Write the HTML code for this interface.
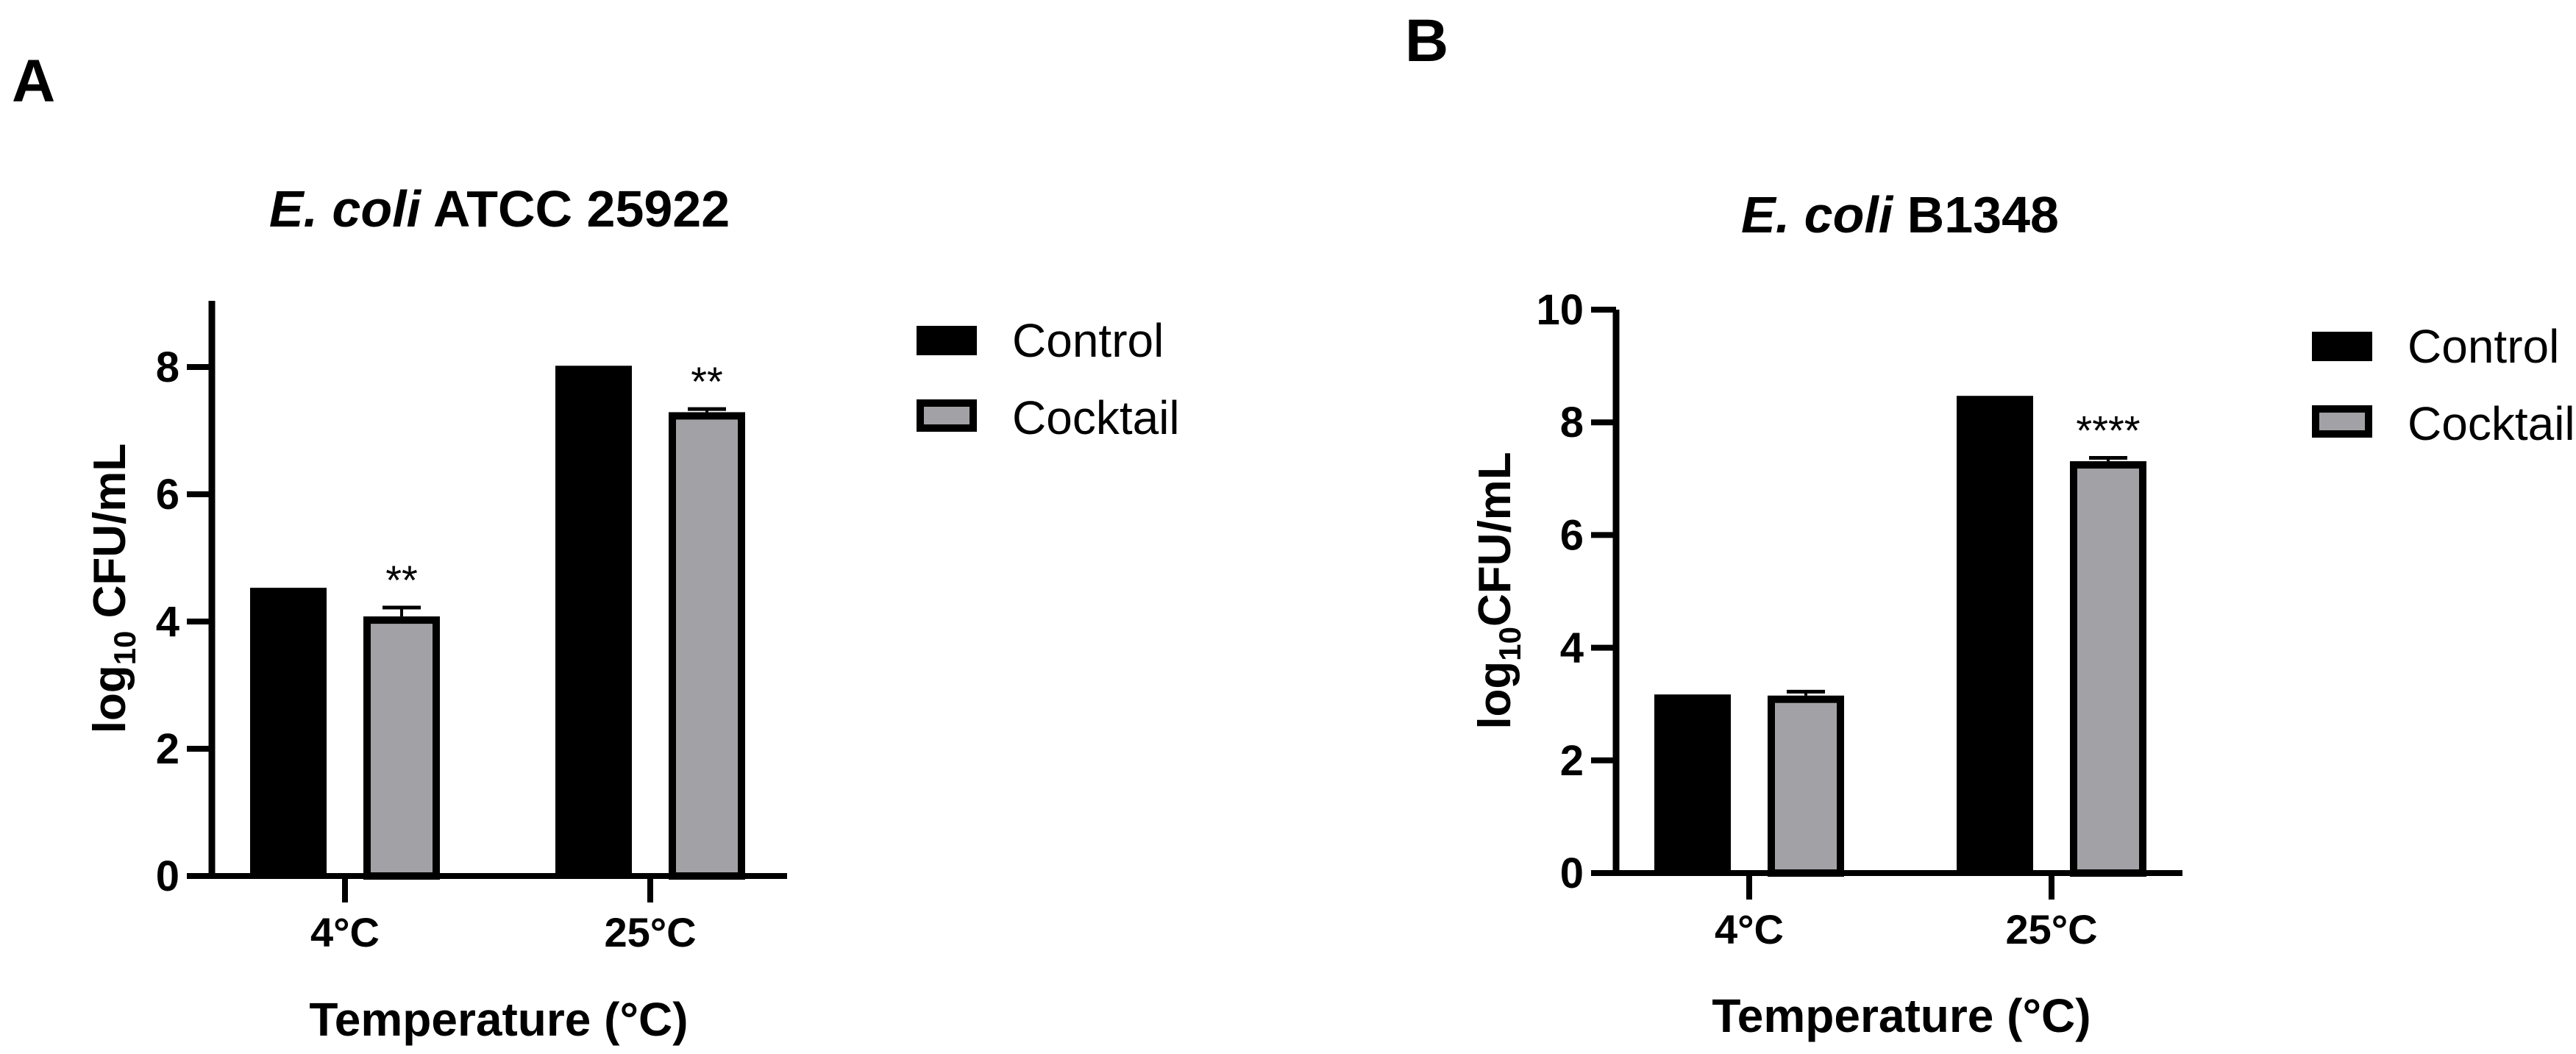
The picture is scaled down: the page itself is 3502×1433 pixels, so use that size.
<!DOCTYPE html>
<html><head><meta charset="utf-8"><style>
html,body{margin:0;padding:0;background:#fff;}
svg{display:block;font-family:"Liberation Sans",Arial,sans-serif;}
</style></head><body>
<svg id="fig" width="3502" height="1433" viewBox="0 0 3502 1433" xmlns="http://www.w3.org/2000/svg">
<rect width="3502" height="1433" fill="#fff"/>
<text x="16" y="138" font-size="82" font-weight="bold">A</text>
<text x="1910" y="83" font-size="82" font-weight="bold">B</text>
<text x="679" y="308" font-size="70" font-weight="bold" text-anchor="middle"><tspan font-style="italic">E. coli</tspan> ATCC 25922</text>
<text x="2583" y="316" font-size="70" font-weight="bold" text-anchor="middle"><tspan font-style="italic">E. coli</tspan> B1348</text>
<g id="pa"></g>
<g id="pb"></g>
</svg>
<script>
var categories = ["4°C", "25°C"];
var seriesNames = ["Control", "Cocktail"];
var aControl = [4.53, 8.02];
var aCocktail = [4.08, 7.29];
var aCocktailErr = [0.14, 0.05];
var aSig = ["**", "**"];
var aTicks = [0, 2, 4, 6, 8];
var bControl = [3.17, 8.47];
var bCocktail = [3.15, 7.31];
var bCocktailErr = [0.07, 0.06];
var bSig = ["", "****"];
var bTicks = [0, 2, 4, 6, 8, 10];

var NS = "http://www.w3.org/2000/svg";
function mk(parent, tag, attrs, text) {
  var e = document.createElementNS(NS, tag);
  for (var k in attrs) e.setAttribute(k, attrs[k]);
  if (text !== undefined) e.textContent = text;
  parent.appendChild(e);
  return e;
}

function drawPanel(g, cfg, control, cocktail, err, sig, ticks) {
  var y = function (v) { return cfg.zeroY - v * cfg.unit; };
  var x = function (i) { return cfg.firstCenter + i * cfg.spacing; };
  var bw = 104, gap = 50;
  for (var i = 0; i < categories.length; i++) {
    var cx = x(i);
    var r1 = mk(g, "rect", {x: cx - gap / 2 - bw, y: y(control[i]), width: bw, height: cfg.zeroY - y(control[i]), fill: "#000"});
    
    
    var eTop = y(cocktail[i] + err[i]);
    var el = mk(g, "line", {x1: cx + gap / 2 + bw / 2, x2: cx + gap / 2 + bw / 2, y1: eTop, y2: y(cocktail[i]), stroke: "#000", "stroke-width": 4});
    
    
    var ec = mk(g, "line", {x1: cx + gap / 2 + bw / 2 - 26, x2: cx + gap / 2 + bw / 2 + 26, y1: eTop, y2: eTop, stroke: "#000", "stroke-width": 5});
    
    
    var r2 = mk(g, "rect", {x: cx + gap / 2 + 5, y: y(cocktail[i]) + 5, width: bw - 10, height: cfg.zeroY - y(cocktail[i]) - 5, fill: "#a2a1a6", stroke: "#000", "stroke-width": 10});
    
    
    if (sig[i]) {
      var s = mk(g, "text", {x: cx + gap / 2 + bw / 2, y: eTop - 18, "font-size": 56, "text-anchor": "middle"}, sig[i]);
      
      
    }
    var tk = mk(g, "line", {x1: cx, x2: cx, y1: cfg.zeroY, y2: cfg.zeroY + 36, stroke: "#000", "stroke-width": 8});
    
    
    var tl = mk(g, "text", {x: cx, y: cfg.zeroY + 96, "font-size": 56, "font-weight": "bold", "text-anchor": "middle"}, categories[i]);
    
    
  }
  var ya = mk(g, "line", {x1: cfg.axisX, x2: cfg.axisX, y1: y(cfg.max), y2: cfg.zeroY + 4, stroke: "#000", "stroke-width": 9});
  
  
  var xa = mk(g, "line", {x1: cfg.axisX - 34, x2: cfg.axisEnd, y1: cfg.zeroY, y2: cfg.zeroY, stroke: "#000", "stroke-width": 8});
  
  
  for (var j = 0; j < ticks.length; j++) {
    var ty = y(ticks[j]);
    var t = mk(g, "line", {x1: cfg.axisX - 34, x2: cfg.axisX, y1: ty, y2: ty, stroke: "#000", "stroke-width": 8});
    
    
    var lb = mk(g, "text", {x: cfg.axisX - 44, y: ty + 20, "font-size": 58, "font-weight": "bold", "text-anchor": "end"}, String(ticks[j]));
    
    
  }
  var yt = mk(g, "text", {x: 0, y: 0, "font-size": 62, "font-weight": "bold", "text-anchor": "middle", transform: "translate(" + cfg.ytX + "," + cfg.ytY + ") rotate(-90)"});
  
  
  mk(yt, "tspan", {}, "log");
  mk(yt, "tspan", {"font-size": 42, dy: 14}, "10");
  mk(yt, "tspan", {dy: -14}, cfg.ytSep + "CFU/mL");
  var xt = mk(g, "text", {x: cfg.xtX, y: cfg.xtY, "font-size": 64, "font-weight": "bold", "text-anchor": "middle"}, "Temperature (°C)");
  
  
  // legend
  var lc = mk(g, "rect", {x: cfg.legX, y: cfg.legY, width: 82, height: 40, fill: "#000"});
  
  
  var lk = mk(g, "rect", {x: cfg.legX + 5, y: cfg.legY + 105, width: 72, height: 34, fill: "#a2a1a6", stroke: "#000", "stroke-width": 10});
  
  
  var t1 = mk(g, "text", {x: cfg.legX + 130, y: cfg.legY + 42, "font-size": 64}, seriesNames[0]);
  
  
  var t2 = mk(g, "text", {x: cfg.legX + 130, y: cfg.legY + 147, "font-size": 64}, seriesNames[1]);
  
  
}

drawPanel(document.getElementById("pa"),
  {zeroY: 1191, unit: 86.5, max: 9.04, axisX: 288, axisEnd: 1070, firstCenter: 469, spacing: 415,
   ytX: 170, ytY: 800, ytSep: " ", xtX: 678, xtY: 1408, legX: 1246, legY: 443},
  aControl, aCocktail, aCocktailErr, aSig, aTicks);
drawPanel(document.getElementById("pb"),
  {zeroY: 1187, unit: 76.6, max: 10, axisX: 2197, axisEnd: 2967, firstCenter: 2378, spacing: 411,
   ytX: 2053, ytY: 803, ytSep: "", xtX: 2585, xtY: 1403, legX: 3143, legY: 451},
  bControl, bCocktail, bCocktailErr, bSig, bTicks);
</script>
</body></html>
